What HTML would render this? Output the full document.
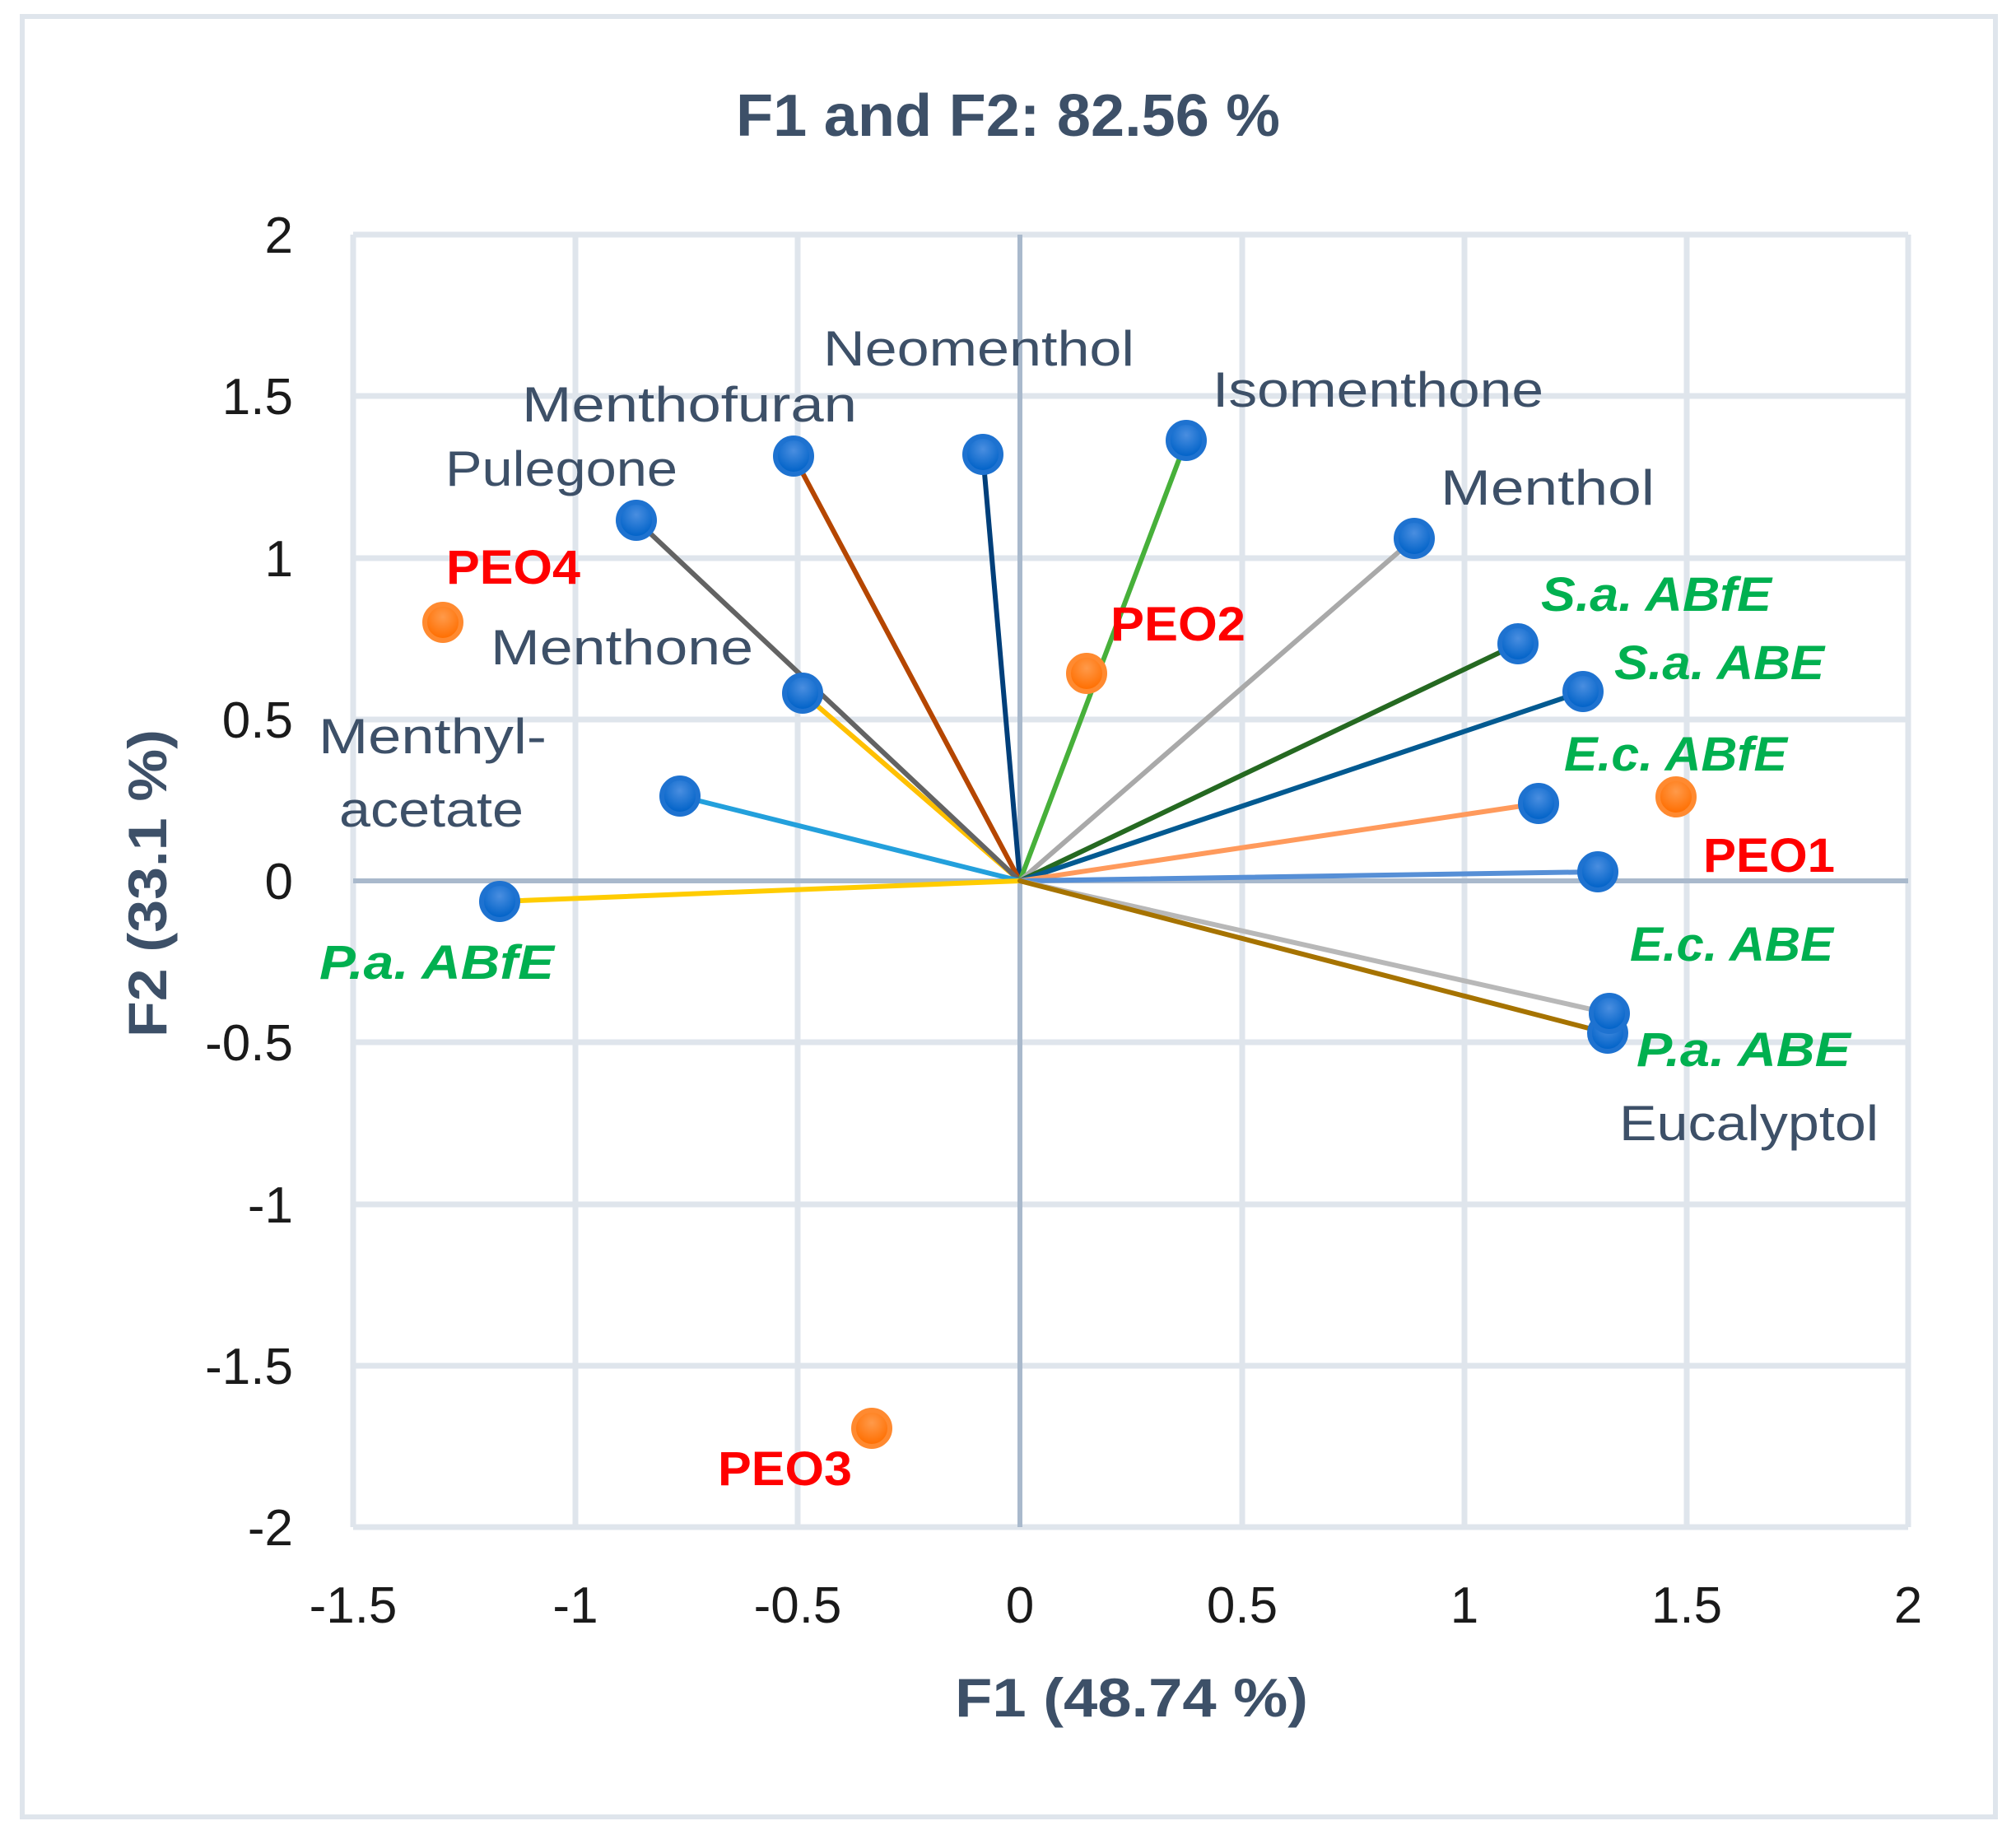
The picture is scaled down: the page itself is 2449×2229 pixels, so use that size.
<!DOCTYPE html>
<html><head><meta charset="utf-8"><style>html,body{margin:0;padding:0;background:#fff}svg{display:block}</style></head>
<body>
<svg width="2449" height="2229" viewBox="0 0 2449 2229" xmlns="http://www.w3.org/2000/svg" font-family="'Liberation Sans', sans-serif">
<defs>
<radialGradient id="gb" cx="50%" cy="35%" r="60%"><stop offset="0" stop-color="#4a8ee0"/><stop offset="1" stop-color="#0062c8"/></radialGradient>
<radialGradient id="go" cx="50%" cy="35%" r="60%"><stop offset="0" stop-color="#ff9a4a"/><stop offset="1" stop-color="#ff6e00"/></radialGradient>
</defs>
<rect x="0" y="0" width="2449" height="2229" fill="#fff"/>
<rect x="27" y="20" width="2397" height="2187" fill="none" stroke="#dfe5ec" stroke-width="6"/>
<g stroke="#dfe5ec" stroke-width="7" fill="none">
<line x1="429" y1="285" x2="429" y2="1855"/><line x1="699" y1="285" x2="699" y2="1855"/><line x1="969" y1="285" x2="969" y2="1855"/>
<line x1="1509" y1="285" x2="1509" y2="1855"/><line x1="1779" y1="285" x2="1779" y2="1855"/><line x1="2049" y1="285" x2="2049" y2="1855"/><line x1="2318" y1="285" x2="2318" y2="1855"/>
<line x1="429" y1="285" x2="2318" y2="285"/><line x1="429" y1="481" x2="2318" y2="481"/><line x1="429" y1="678" x2="2318" y2="678"/><line x1="429" y1="874" x2="2318" y2="874"/>
<line x1="429" y1="1266" x2="2318" y2="1266"/><line x1="429" y1="1463" x2="2318" y2="1463"/><line x1="429" y1="1659" x2="2318" y2="1659"/><line x1="429" y1="1855" x2="2318" y2="1855"/>
</g>
<g stroke="#a9b9cc" stroke-width="6">
<line x1="1239" y1="285" x2="1239" y2="1855"/><line x1="429" y1="1070" x2="2318" y2="1070"/>
</g>
<g stroke-width="6" stroke-linecap="round">
<line x1="1239" y1="1070" x2="1194" y2="552" stroke="#003f7a"/>
<line x1="1239" y1="1070" x2="964" y2="554" stroke="#b54600"/>
<line x1="1239" y1="1070" x2="975" y2="842" stroke="#ffc000"/>
<line x1="1239" y1="1070" x2="773" y2="632" stroke="#636363"/>
<line x1="1239" y1="1070" x2="1441" y2="535" stroke="#47b03a"/>
<line x1="1239" y1="1070" x2="1718" y2="654" stroke="#a9a9a9"/>
<line x1="1239" y1="1070" x2="1844" y2="782" stroke="#256921"/>
<line x1="1239" y1="1070" x2="1923" y2="840" stroke="#035a91"/>
<line x1="1239" y1="1070" x2="1869" y2="976" stroke="#ff9a5c"/>
<line x1="1239" y1="1070" x2="1941" y2="1059" stroke="#568fd6"/>
<line x1="1239" y1="1070" x2="826" y2="967" stroke="#23a0dc"/>
<line x1="1239" y1="1070" x2="607" y2="1095" stroke="#ffcc00"/>
<line x1="1239" y1="1070" x2="1955" y2="1231" stroke="#b8b8b8"/>
<line x1="1239" y1="1070" x2="1953" y2="1255" stroke="#a67300"/>
</g>
<g fill="url(#gb)" stroke="#1e72d0" stroke-width="6">
<circle cx="1194" cy="552" r="22"/><circle cx="964" cy="554" r="22"/><circle cx="773" cy="632" r="22"/>
<circle cx="1441" cy="535" r="22"/><circle cx="1718" cy="654" r="22"/><circle cx="1844" cy="782" r="22"/>
<circle cx="1923" cy="840" r="22"/><circle cx="1869" cy="976" r="22"/><circle cx="1941" cy="1059" r="22"/>
<circle cx="975" cy="842" r="22"/><circle cx="826" cy="967" r="22"/><circle cx="607" cy="1095" r="22"/>
<circle cx="1953" cy="1255" r="22"/><circle cx="1955" cy="1231" r="22"/>
</g>
<g fill="url(#go)" stroke="#ff8a30" stroke-width="6">
<circle cx="538" cy="756" r="22"/><circle cx="1320" cy="818" r="22"/><circle cx="2036" cy="968" r="22"/><circle cx="1059" cy="1735" r="22"/>
</g>
<text x="894" y="165" font-size="72" font-weight="bold" fill="#3d5068" textLength="661" lengthAdjust="spacingAndGlyphs">F1 and F2: 82.56 %</text>
<g font-size="62" fill="#1a1a1a" text-anchor="end">
<text x="356" y="307">2</text><text x="356" y="503">1.5</text><text x="356" y="700">1</text><text x="356" y="896">0.5</text>
<text x="356" y="1092">0</text><text x="356" y="1288">-0.5</text><text x="356" y="1485">-1</text><text x="356" y="1681">-1.5</text><text x="356" y="1877">-2</text>
</g>
<g font-size="62" fill="#1a1a1a" text-anchor="middle">
<text x="429" y="1971">-1.5</text><text x="699" y="1971">-1</text><text x="969" y="1971">-0.5</text><text x="1239" y="1971">0</text>
<text x="1509" y="1971">0.5</text><text x="1779" y="1971">1</text><text x="2049" y="1971">1.5</text><text x="2318" y="1971">2</text>
</g>
<text x="1160" y="2085" font-size="66" font-weight="bold" fill="#3d5068" textLength="429" lengthAdjust="spacingAndGlyphs">F1 (48.74 %)</text>
<text transform="translate(202,1260) rotate(-90)" font-size="66" font-weight="bold" fill="#3d5068" textLength="374" lengthAdjust="spacingAndGlyphs">F2 (33.1 %)</text>
<g font-size="60" fill="#3d5068">
<text x="1000" y="444" textLength="378" lengthAdjust="spacingAndGlyphs">Neomenthol</text>
<text x="1473" y="494" textLength="402" lengthAdjust="spacingAndGlyphs">Isomenthone</text>
<text x="634" y="512" textLength="407" lengthAdjust="spacingAndGlyphs">Menthofuran</text>
<text x="541" y="590" textLength="282" lengthAdjust="spacingAndGlyphs">Pulegone</text>
<text x="1750" y="613" textLength="260" lengthAdjust="spacingAndGlyphs">Menthol</text>
<text x="596" y="807" textLength="319" lengthAdjust="spacingAndGlyphs">Menthone</text>
<text x="387" y="915" textLength="277" lengthAdjust="spacingAndGlyphs">Menthyl-</text>
<text x="412" y="1004" textLength="224" lengthAdjust="spacingAndGlyphs">acetate</text>
<text x="1967" y="1385" textLength="315" lengthAdjust="spacingAndGlyphs">Eucalyptol</text>
</g>
<g font-size="58" font-weight="bold" fill="#ff0000">
<text x="542" y="709" textLength="163" lengthAdjust="spacingAndGlyphs">PEO4</text>
<text x="1349" y="778" textLength="164" lengthAdjust="spacingAndGlyphs">PEO2</text>
<text x="2069" y="1059" textLength="160" lengthAdjust="spacingAndGlyphs">PEO1</text>
<text x="872" y="1804" textLength="163" lengthAdjust="spacingAndGlyphs">PEO3</text>
</g>
<g font-size="58" font-weight="bold" font-style="italic" fill="#00b050">
<text x="1872" y="742" textLength="280" lengthAdjust="spacingAndGlyphs">S.a. ABfE</text>
<text x="1961" y="825" textLength="255" lengthAdjust="spacingAndGlyphs">S.a. ABE</text>
<text x="1900" y="936" textLength="271" lengthAdjust="spacingAndGlyphs">E.c. ABfE</text>
<text x="1980" y="1167" textLength="247" lengthAdjust="spacingAndGlyphs">E.c. ABE</text>
<text x="1988" y="1295" textLength="260" lengthAdjust="spacingAndGlyphs">P.a. ABE</text>
<text x="388" y="1189" textLength="285" lengthAdjust="spacingAndGlyphs">P.a. ABfE</text>
</g>
</svg>
</body></html>
